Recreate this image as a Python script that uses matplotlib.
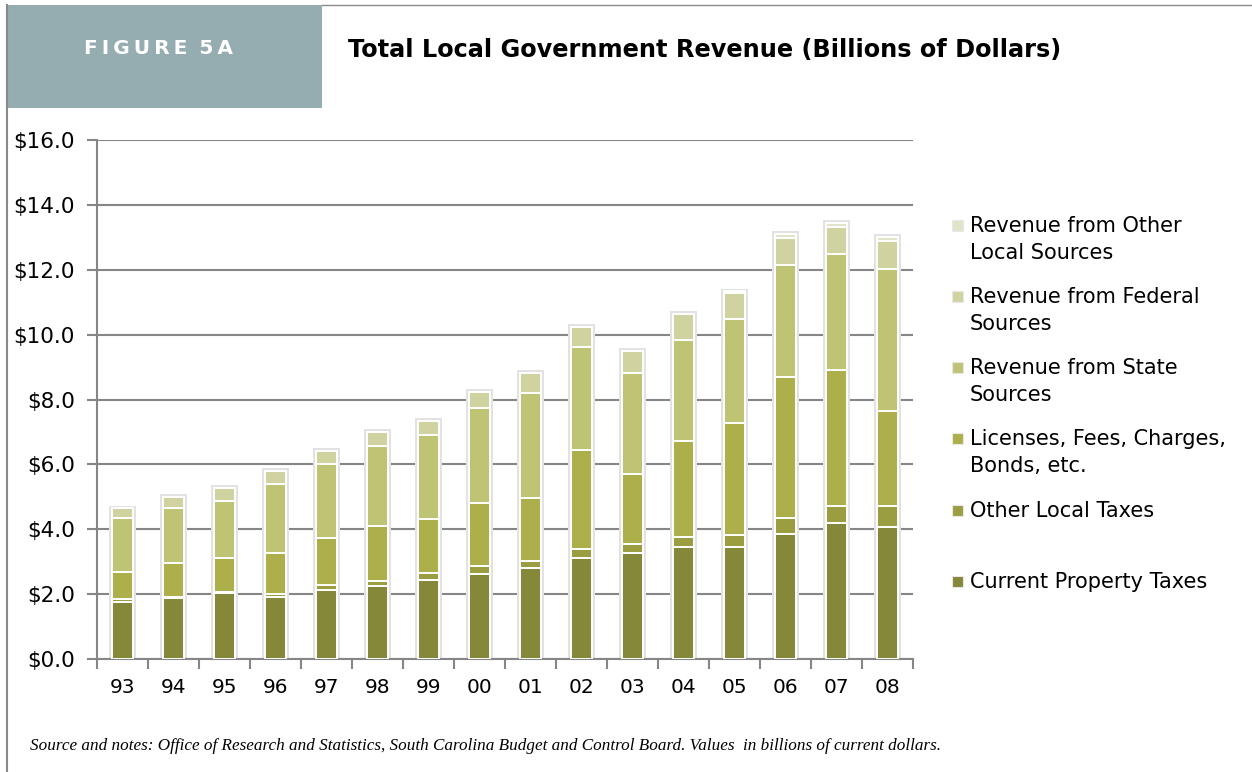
import matplotlib.pyplot as plt
from matplotlib.patches import Rectangle
import numpy as np

years = ["93", "94", "95", "96", "97", "98", "99", "00",
         "01", "02", "03", "04", "05", "06", "07", "08"]

# billions of dollars (bottom to top of each stack)
property_taxes = [1.77, 1.87, 2.02, 1.92, 2.13, 2.26, 2.44, 2.61,
                  2.82, 3.12, 3.28, 3.46, 3.46, 3.85, 4.18, 4.08]
other_local_taxes = [0.07, 0.05, 0.05, 0.08, 0.15, 0.16, 0.20, 0.27,
                     0.21, 0.26, 0.25, 0.31, 0.36, 0.49, 0.55, 0.65]
licenses_fees = [0.85, 1.05, 1.03, 1.26, 1.46, 1.69, 1.67, 1.94,
                 1.92, 3.05, 2.17, 2.96, 3.45, 4.36, 4.18, 2.91]
state_sources = [1.65, 1.67, 1.78, 2.13, 2.27, 2.47, 2.60, 2.91,
                 3.24, 3.20, 3.11, 3.10, 3.20, 3.45, 3.57, 4.39]
federal_sources = [0.30, 0.36, 0.38, 0.42, 0.41, 0.41, 0.44, 0.49,
                   0.62, 0.61, 0.69, 0.80, 0.82, 0.84, 0.85, 0.87]
other_local_sources = [0.0, 0.0, 0.0, 0.0, 0.0, 0.0, 0.0, 0.0,
                       0.0, 0.0, 0.0, 0.0, 0.04, 0.11, 0.12, 0.10]

series = [property_taxes, other_local_taxes, licenses_fees,
          state_sources, federal_sources, other_local_sources]
labels = ["Current Property Taxes", "Other Local Taxes",
          "Licenses, Fees, Charges,\nBonds, etc.", "Revenue from State\nSources",
          "Revenue from Federal\nSources", "Revenue from Other\nLocal Sources"]
colors = ["#848838", "#9b9e40", "#adb04a", "#bec474", "#d0d3a0", "#e2e4c9"]

yticks = [0, 2, 4, 6, 8, 10, 12, 14, 16]
ytick_labels = ["$0.0", "$2.0", "$4.0", "$6.0", "$8.0", "$10.0", "$12.0", "$14.0", "$16.0"]

plt.rcParams["font.family"] = ["DejaVu Sans"]

W, H = 1252, 772
fig = plt.figure(figsize=(W / 100, H / 100), dpi=100)
ax = fig.add_axes([97 / W, 1 - 659 / H, 816 / W, 519 / H])

x = np.arange(len(years))
totals = np.sum(np.array(series), axis=0)

# soft gray glow behind each bar
ax.bar(x, totals + 0.14, width=0.53, bottom=-0.05, color="#e2e2e2", zorder=2)

bottom = np.zeros(len(years))
for vals, col in zip(series, colors):
    ax.bar(x, vals, width=0.43, bottom=bottom, color=col,
           edgecolor="white", linewidth=1.4, zorder=3)
    bottom += np.array(vals)

ax.set_xlim(-0.5, len(years) - 0.5)
ax.set_ylim(0, 16)
ax.set_yticks(yticks)
ax.set_yticklabels(ytick_labels, fontsize=15.5)
ax.yaxis.grid(True, color="#868686", linewidth=1.5, zorder=0)
ax.set_axisbelow(True)

ax.set_xticks(x)
ax.set_xticklabels(years, fontsize=14.5)
ax.set_xticks(np.arange(-0.5, len(years)), minor=True)
ax.tick_params(axis="x", which="major", length=0, pad=14)
ax.tick_params(axis="x", which="minor", length=7, width=1.5, color="#868686")
ax.tick_params(axis="y", length=7, width=1.5, color="#868686", pad=9)

for s in ["top", "right"]:
    ax.spines[s].set_visible(False)
for s in ["left", "bottom"]:
    ax.spines[s].set_color("#868686")
    ax.spines[s].set_linewidth(1.5)

# legend drawn by hand, top entry first
leg_y = [226, 297, 368, 439, 511, 582]
for yy, lab, col in zip(leg_y, labels[::-1], colors[::-1]):
    fig.patches.append(Rectangle((952 / W, 1 - (yy + 5) / H), 11 / W, 11 / H,
                                 transform=fig.transFigure, facecolor=col,
                                 edgecolor="#e8e8e8", linewidth=0.8))
    first, _, second = lab.partition("\n")
    fig.text(970 / W, 1 - yy / H, first, fontsize=15, va="center", ha="left")
    if second:
        fig.text(970 / W, 1 - (yy + 27) / H, second, fontsize=15, va="center", ha="left")

# header box and frame lines
fig.patches.append(Rectangle((8 / W, 1 - 108 / H), 314 / W, 103 / H,
                             transform=fig.transFigure, facecolor="#95adb0",
                             edgecolor="none"))
fig.add_artist(plt.Line2D([7 / W, 7 / W], [0, 1 - 5 / H], color="#8a8a8a", linewidth=1.5))
fig.add_artist(plt.Line2D([322 / W, 1], [1 - 5 / H, 1 - 5 / H], color="#8a8a8a", linewidth=1.0))
fig.text(158 / W, 1 - 48 / H, "F I G U R E   5 A".replace(" ", "\u2009"),
         color="white", fontsize=14.5, fontweight="bold", ha="center", va="center")
fig.text(348 / W, 1 - 50 / H, "Total Local Government Revenue (Billions of Dollars)",
         fontsize=17.3, fontweight="bold", ha="left", va="center")

fig.text(30 / W, 1 - 746 / H,
         "Source and notes: Office of Research and Statistics, South Carolina Budget "
         "and Control Board. Values  in billions of current dollars.",
         fontsize=12.3, family="Liberation Serif", style="italic", ha="left", va="center")

fig.savefig("out.png", dpi=100)
